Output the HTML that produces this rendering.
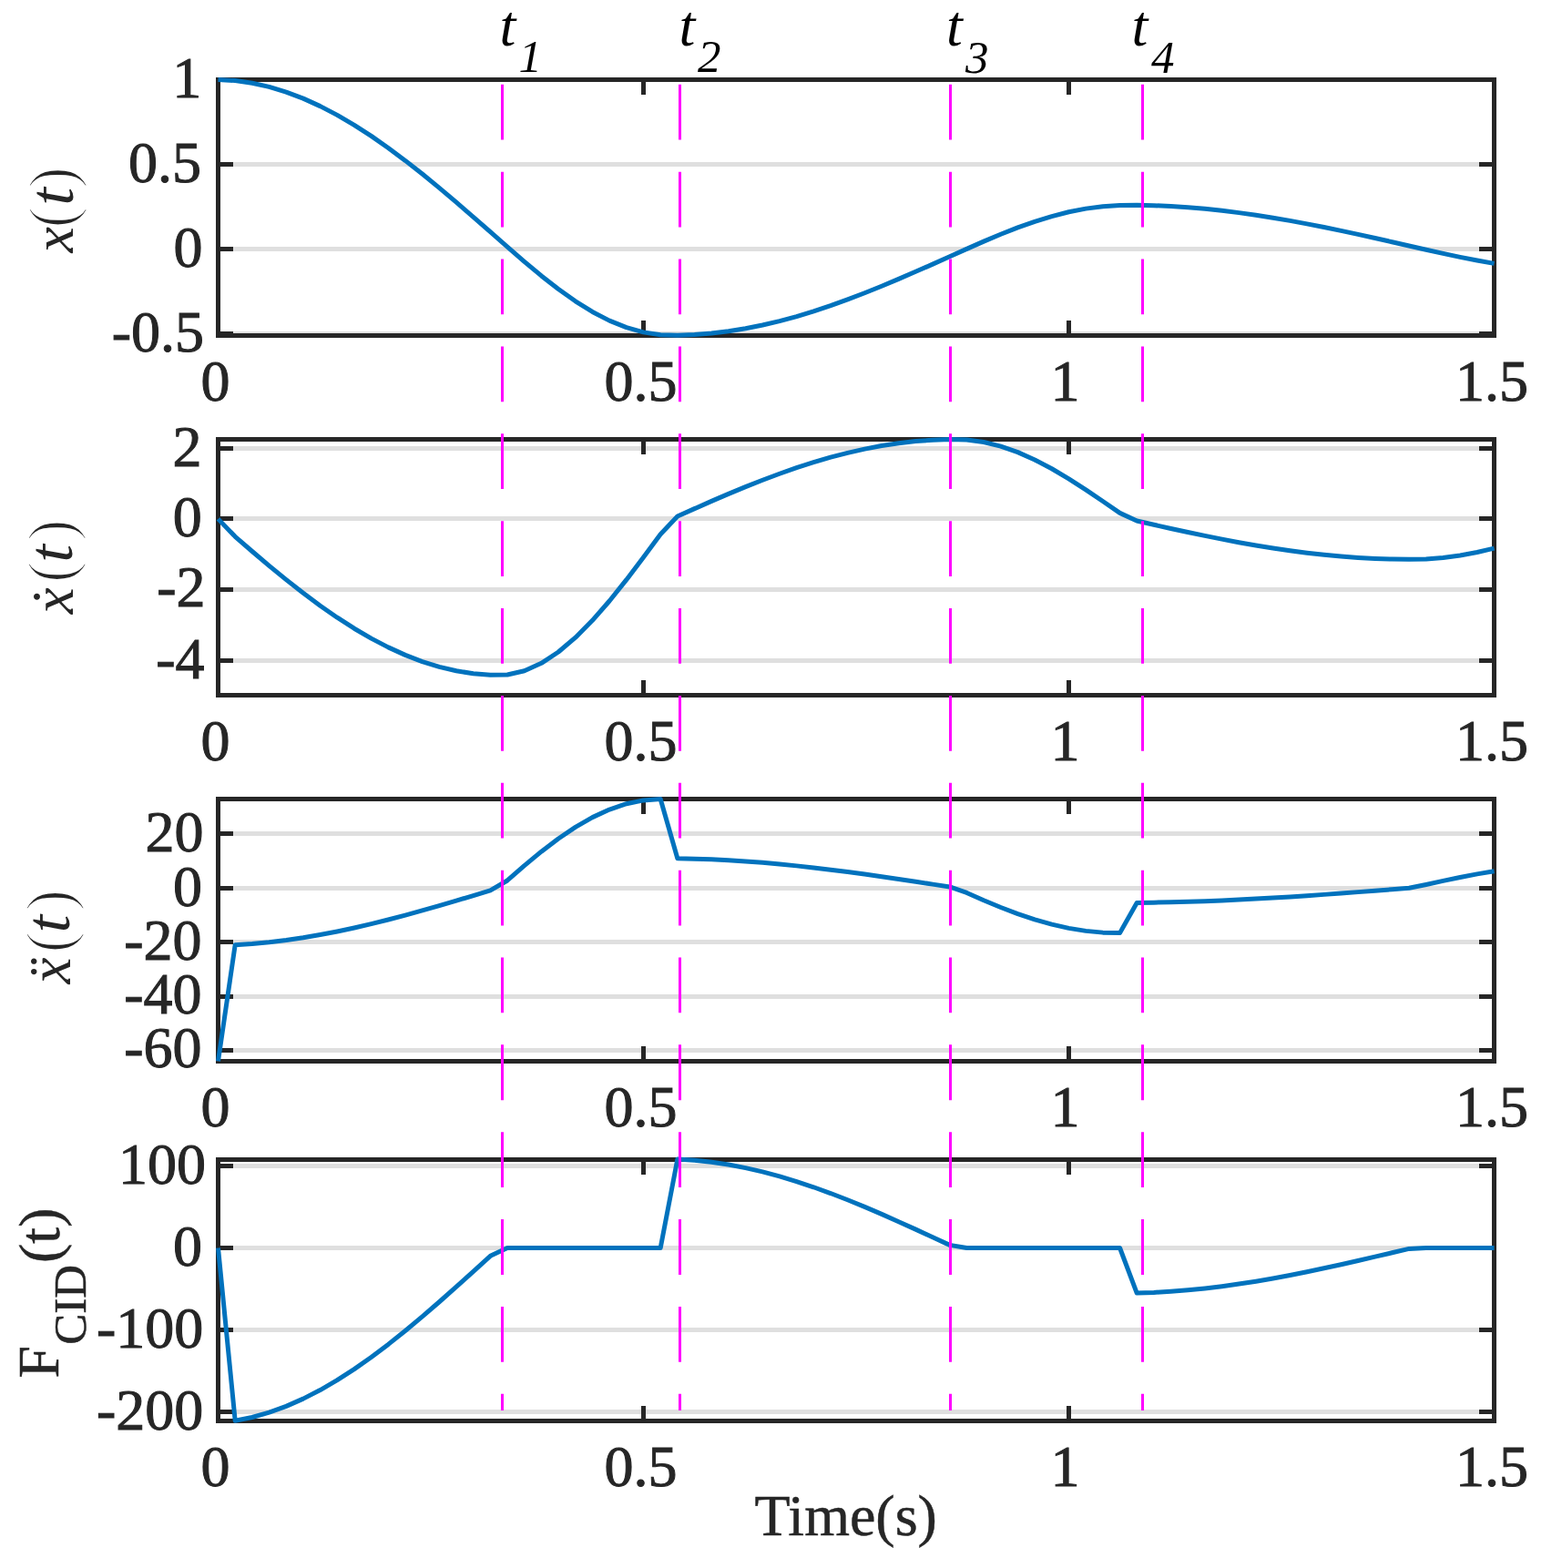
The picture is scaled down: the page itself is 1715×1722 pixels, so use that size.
<!DOCTYPE html>
<html><head><meta charset="utf-8"><title>Response plots</title>
<style>html,body{margin:0;padding:0;background:#fff;}svg{display:block;}</style></head>
<body>
<svg width="1715" height="1722" viewBox="0 0 1715 1722">
<rect width="1715" height="1722" fill="#fff"/>
<g><line x1="239.5" y1="87.50" x2="1640.5" y2="87.50" stroke="#dfdfdf" stroke-width="5"/><line x1="239.5" y1="180.50" x2="1640.5" y2="180.50" stroke="#dfdfdf" stroke-width="5"/><line x1="239.5" y1="273.50" x2="1640.5" y2="273.50" stroke="#dfdfdf" stroke-width="5"/><line x1="239.5" y1="366.50" x2="1640.5" y2="366.50" stroke="#dfdfdf" stroke-width="5"/></g>
<path d="M239.5 87.5H1640.5V368.5H239.5Z" fill="none" stroke="#262626" stroke-width="5" stroke-linejoin="miter"/>
<path d="M239.5 87.50h16.5M1640.5 87.50h-16.5M239.5 180.50h16.5M1640.5 180.50h-16.5M239.5 273.50h16.5M1640.5 273.50h-16.5M239.5 366.50h16.5M1640.5 366.50h-16.5M239.50 368.5v-16.5M239.50 87.5v16.5M706.50 368.5v-16.5M706.50 87.5v16.5M1173.50 368.5v-16.5M1173.50 87.5v16.5M1640.50 368.5v-16.5M1640.50 87.5v16.5" fill="none" stroke="#262626" stroke-width="5" stroke-linecap="butt"/>
<polyline points="239.50,87.50 258.18,88.56 276.86,91.20 295.54,95.38 314.22,101.05 332.90,108.15 351.58,116.63 370.26,126.39 388.94,137.35 407.62,149.42 426.30,162.47 444.98,176.40 463.66,191.08 482.34,206.38 501.02,222.17 519.70,238.32 538.38,254.67 557.06,271.10 575.74,287.32 594.42,302.93 613.10,317.55 631.78,330.82 650.46,342.43 669.14,352.10 687.82,359.63 706.50,364.86 725.18,367.69 743.86,368.18 762.54,367.50 781.22,366.03 799.90,363.78 818.58,360.78 837.26,357.04 855.94,352.62 874.62,347.55 893.30,341.87 911.98,335.65 930.66,328.93 949.34,321.77 968.02,314.24 986.70,306.40 1005.38,298.33 1024.06,290.09 1042.74,281.75 1061.42,273.39 1080.10,265.16 1098.78,257.28 1117.46,249.94 1136.14,243.31 1154.82,237.55 1173.50,232.79 1192.18,229.14 1210.86,226.67 1229.54,225.43 1248.22,225.32 1266.90,225.73 1285.58,226.54 1304.26,227.75 1322.94,229.34 1341.62,231.30 1360.30,233.61 1378.98,236.24 1397.66,239.18 1416.34,242.39 1435.02,245.85 1453.70,249.53 1472.38,253.39 1491.06,257.40 1509.74,261.53 1528.42,265.73 1547.10,269.99 1565.78,274.24 1584.46,278.40 1603.14,282.38 1621.82,286.07 1640.50,289.38" fill="none" stroke="#0072bd" stroke-width="5" stroke-linejoin="round" stroke-linecap="butt"/>
<g font-family="Liberation Serif, serif" font-size="64" fill="#262626" stroke="#262626" stroke-width="1"><text x="221.3" y="106.5" text-anchor="end">1</text><text x="220.9" y="199.5" text-anchor="end">0.5</text><text x="222.5" y="292.5" text-anchor="end">0</text><text x="224.1" y="386.2" text-anchor="end">-0.5</text><text x="236.5" y="440.0" text-anchor="middle">0</text><text x="703.4" y="440.0" text-anchor="middle">0.5</text><text x="1169.5" y="440.0" text-anchor="middle">1</text><text x="1638.0" y="440.0" text-anchor="middle">1.5</text></g>
<g><line x1="239.5" y1="492.50" x2="1640.5" y2="492.50" stroke="#dfdfdf" stroke-width="5"/><line x1="239.5" y1="569.50" x2="1640.5" y2="569.50" stroke="#dfdfdf" stroke-width="5"/><line x1="239.5" y1="647.50" x2="1640.5" y2="647.50" stroke="#dfdfdf" stroke-width="5"/><line x1="239.5" y1="725.50" x2="1640.5" y2="725.50" stroke="#dfdfdf" stroke-width="5"/></g>
<path d="M239.5 482.5H1640.5V763.5H239.5Z" fill="none" stroke="#262626" stroke-width="5" stroke-linejoin="miter"/>
<path d="M239.5 492.50h16.5M1640.5 492.50h-16.5M239.5 569.50h16.5M1640.5 569.50h-16.5M239.5 647.50h16.5M1640.5 647.50h-16.5M239.5 725.50h16.5M1640.5 725.50h-16.5M239.50 763.5v-16.5M239.50 482.5v16.5M706.50 763.5v-16.5M706.50 482.5v16.5M1173.50 763.5v-16.5M1173.50 482.5v16.5M1640.50 763.5v-16.5M1640.50 482.5v16.5" fill="none" stroke="#262626" stroke-width="5" stroke-linecap="butt"/>
<polyline points="239.50,569.87 258.18,589.29 276.86,605.51 295.54,621.34 314.22,636.65 332.90,651.31 351.58,665.20 370.26,678.20 388.94,690.22 407.62,701.14 426.30,710.89 444.98,719.39 463.66,726.58 482.34,732.39 501.02,736.79 519.70,739.75 538.38,741.24 557.06,740.94 575.74,736.69 594.42,728.29 613.10,716.00 631.78,700.21 650.46,681.36 669.14,659.99 687.82,636.67 706.50,612.03 725.18,586.71 743.86,567.01 762.54,558.64 781.22,550.41 799.90,542.39 818.58,534.64 837.26,527.24 855.94,520.24 874.62,513.69 893.30,507.66 911.98,502.19 930.66,497.32 949.34,493.10 968.02,489.55 986.70,486.71 1005.38,484.59 1024.06,483.20 1042.74,482.56 1061.42,482.96 1080.10,485.47 1098.78,490.08 1117.46,496.63 1136.14,504.94 1154.82,514.76 1173.50,525.82 1192.18,537.83 1210.86,550.45 1229.54,563.36 1248.22,572.01 1266.90,576.26 1285.58,580.44 1304.26,584.50 1322.94,588.42 1341.62,592.16 1360.30,595.69 1378.98,598.98 1397.66,602.01 1416.34,604.75 1435.02,607.17 1453.70,609.27 1472.38,611.02 1491.06,612.41 1509.74,613.43 1528.42,614.07 1547.10,614.34 1565.78,613.99 1584.46,612.53 1603.14,610.02 1621.82,606.53 1640.50,602.17" fill="none" stroke="#0072bd" stroke-width="5" stroke-linejoin="round" stroke-linecap="butt"/>
<g font-family="Liberation Serif, serif" font-size="64" fill="#262626" stroke="#262626" stroke-width="1"><text x="221.6" y="512.0" text-anchor="end">2</text><text x="221.7" y="589.4" text-anchor="end">0</text><text x="225.5" y="666.1" text-anchor="end">-2</text><text x="224.5" y="744.7" text-anchor="end">-4</text><text x="236.5" y="835.0" text-anchor="middle">0</text><text x="703.4" y="835.0" text-anchor="middle">0.5</text><text x="1169.5" y="835.0" text-anchor="middle">1</text><text x="1638.0" y="835.0" text-anchor="middle">1.5</text></g>
<g><line x1="239.5" y1="915.50" x2="1640.5" y2="915.50" stroke="#dfdfdf" stroke-width="5"/><line x1="239.5" y1="975.50" x2="1640.5" y2="975.50" stroke="#dfdfdf" stroke-width="5"/><line x1="239.5" y1="1034.50" x2="1640.5" y2="1034.50" stroke="#dfdfdf" stroke-width="5"/><line x1="239.5" y1="1094.50" x2="1640.5" y2="1094.50" stroke="#dfdfdf" stroke-width="5"/><line x1="239.5" y1="1153.50" x2="1640.5" y2="1153.50" stroke="#dfdfdf" stroke-width="5"/></g>
<path d="M239.5 877.5H1640.5V1165.5H239.5Z" fill="none" stroke="#262626" stroke-width="5" stroke-linejoin="miter"/>
<path d="M239.5 915.50h16.5M1640.5 915.50h-16.5M239.5 975.50h16.5M1640.5 975.50h-16.5M239.5 1034.50h16.5M1640.5 1034.50h-16.5M239.5 1094.50h16.5M1640.5 1094.50h-16.5M239.5 1153.50h16.5M1640.5 1153.50h-16.5M239.50 1165.5v-16.5M239.50 877.5v16.5M706.50 1165.5v-16.5M706.50 877.5v16.5M1173.50 1165.5v-16.5M1173.50 877.5v16.5M1640.50 1165.5v-16.5M1640.50 877.5v16.5" fill="none" stroke="#262626" stroke-width="5" stroke-linecap="butt"/>
<polyline points="239.50,1165.40 258.18,1037.71 276.86,1036.48 295.54,1034.73 314.22,1032.48 332.90,1029.76 351.58,1026.58 370.26,1022.98 388.94,1019.00 407.62,1014.66 426.30,1010.00 444.98,1005.08 463.66,999.92 482.34,994.58 501.02,989.10 519.70,983.53 538.38,977.92 557.06,966.97 575.74,950.63 594.42,935.16 613.10,920.95 631.78,908.33 650.46,897.61 669.14,889.01 687.82,882.74 706.50,878.89 725.18,877.55 743.86,942.75 762.54,943.15 781.22,943.82 799.90,944.76 818.58,945.94 837.26,947.36 855.94,949.02 874.62,950.88 893.30,952.94 911.98,955.18 930.66,957.57 949.34,960.10 968.02,962.74 986.70,965.47 1005.38,968.27 1024.06,971.11 1042.74,973.97 1061.42,980.44 1080.10,988.71 1098.78,996.49 1117.46,1003.61 1136.14,1009.89 1154.82,1015.18 1173.50,1019.37 1192.18,1022.38 1210.86,1024.13 1229.54,1024.61 1248.22,991.40 1266.90,991.17 1285.58,990.81 1304.26,990.31 1322.94,989.69 1341.62,988.94 1360.30,988.08 1378.98,987.12 1397.66,986.05 1416.34,984.90 1435.02,983.67 1453.70,982.37 1472.38,981.02 1491.06,979.62 1509.74,978.20 1528.42,976.75 1547.10,975.29 1565.78,971.54 1584.46,967.37 1603.14,963.45 1621.82,959.89 1640.50,956.77" fill="none" stroke="#0072bd" stroke-width="5" stroke-linejoin="round" stroke-linecap="butt"/>
<g font-family="Liberation Serif, serif" font-size="64" fill="#262626" stroke="#262626" stroke-width="1"><text x="223.5" y="934.5" text-anchor="end">20</text><text x="221.9" y="994.6" text-anchor="end">0</text><text x="221.5" y="1053.7" text-anchor="end">-20</text><text x="221.5" y="1113.0" text-anchor="end">-40</text><text x="221.5" y="1172.1" text-anchor="end">-60</text><text x="236.5" y="1237.0" text-anchor="middle">0</text><text x="703.4" y="1237.0" text-anchor="middle">0.5</text><text x="1169.5" y="1237.0" text-anchor="middle">1</text><text x="1638.0" y="1237.0" text-anchor="middle">1.5</text></g>
<g><line x1="239.5" y1="1280.50" x2="1640.5" y2="1280.50" stroke="#dfdfdf" stroke-width="5"/><line x1="239.5" y1="1370.50" x2="1640.5" y2="1370.50" stroke="#dfdfdf" stroke-width="5"/><line x1="239.5" y1="1460.50" x2="1640.5" y2="1460.50" stroke="#dfdfdf" stroke-width="5"/><line x1="239.5" y1="1550.50" x2="1640.5" y2="1550.50" stroke="#dfdfdf" stroke-width="5"/></g>
<path d="M239.5 1273.5H1640.5V1560.5H239.5Z" fill="none" stroke="#262626" stroke-width="5" stroke-linejoin="miter"/>
<path d="M239.5 1280.50h16.5M1640.5 1280.50h-16.5M239.5 1370.50h16.5M1640.5 1370.50h-16.5M239.5 1460.50h16.5M1640.5 1460.50h-16.5M239.5 1550.50h16.5M1640.5 1550.50h-16.5M239.50 1560.5v-16.5M239.50 1273.5v16.5M706.50 1560.5v-16.5M706.50 1273.5v16.5M1173.50 1560.5v-16.5M1173.50 1273.5v16.5M1640.50 1560.5v-16.5M1640.50 1273.5v16.5" fill="none" stroke="#262626" stroke-width="5" stroke-linecap="butt"/>
<polyline points="239.50,1370.50 258.18,1560.20 276.86,1556.48 295.54,1551.19 314.22,1544.39 332.90,1536.15 351.58,1526.54 370.26,1515.66 388.94,1503.60 407.62,1490.47 426.30,1476.40 444.98,1461.49 463.66,1445.90 482.34,1429.74 501.02,1413.17 519.70,1396.32 538.38,1379.34 557.06,1370.50 575.74,1370.50 594.42,1370.50 613.10,1370.50 631.78,1370.50 650.46,1370.50 669.14,1370.50 687.82,1370.50 706.50,1370.50 725.18,1370.50 743.86,1272.94 762.54,1274.16 781.22,1276.19 799.90,1279.00 818.58,1282.59 837.26,1286.90 855.94,1291.89 874.62,1297.54 893.30,1303.77 911.98,1310.53 930.66,1317.77 949.34,1325.42 968.02,1333.41 986.70,1341.68 1005.38,1350.14 1024.06,1358.74 1042.74,1367.38 1061.42,1370.50 1080.10,1370.50 1098.78,1370.50 1117.46,1370.50 1136.14,1370.50 1154.82,1370.50 1173.50,1370.50 1192.18,1370.50 1210.86,1370.50 1229.54,1370.50 1248.22,1420.10 1266.90,1419.42 1285.58,1418.32 1304.26,1416.82 1322.94,1414.94 1341.62,1412.68 1360.30,1410.08 1378.98,1407.16 1397.66,1403.94 1416.34,1400.46 1435.02,1396.74 1453.70,1392.81 1472.38,1388.72 1491.06,1384.49 1509.74,1380.17 1528.42,1375.78 1547.10,1371.38 1565.78,1370.50 1584.46,1370.50 1603.14,1370.50 1621.82,1370.50 1640.50,1370.50" fill="none" stroke="#0072bd" stroke-width="5" stroke-linejoin="round" stroke-linecap="butt"/>
<g font-family="Liberation Serif, serif" font-size="64" fill="#262626" stroke="#262626" stroke-width="1"><text x="226.1" y="1299.7" text-anchor="end">100</text><text x="221.9" y="1389.7" text-anchor="end">0</text><text x="223.2" y="1479.7" text-anchor="end">-100</text><text x="223.2" y="1569.8" text-anchor="end">-200</text><text x="236.5" y="1632.0" text-anchor="middle">0</text><text x="703.4" y="1632.0" text-anchor="middle">0.5</text><text x="1169.5" y="1632.0" text-anchor="middle">1</text><text x="1638.0" y="1632.0" text-anchor="middle">1.5</text></g>
<line x1="551.5" y1="92.8" x2="551.5" y2="1549" stroke="#ff00ff" stroke-width="3" stroke-dasharray="60.8 35.07"/>
<line x1="746.5" y1="92.8" x2="746.5" y2="1549" stroke="#ff00ff" stroke-width="3" stroke-dasharray="60.8 35.07"/>
<line x1="1043.5" y1="92.8" x2="1043.5" y2="1549" stroke="#ff00ff" stroke-width="3" stroke-dasharray="60.8 35.07"/>
<line x1="1254.5" y1="92.8" x2="1254.5" y2="1549" stroke="#ff00ff" stroke-width="3" stroke-dasharray="60.8 35.07"/>
<g font-family="Liberation Serif, serif" font-style="italic" fill="#000"><text><tspan x="548.45" y="50.35" font-size="64">t</tspan><tspan x="569.4" y="79.45" font-size="51">1</tspan></text><text><tspan x="745.4" y="50.35" font-size="64">t</tspan><tspan x="766.0" y="79.45" font-size="51">2</tspan></text><text><tspan x="1039.05" y="50.35" font-size="64">t</tspan><tspan x="1059.9" y="80.0" font-size="51">3</tspan></text><text><tspan x="1242.45" y="50.35" font-size="64">t</tspan><tspan x="1264.05" y="79.9" font-size="51">4</tspan></text></g>
<g font-family="Liberation Serif, serif" fill="#262626"><text transform="rotate(-90)"><tspan x="-277.55" y="80.2" font-size="64" font-style="italic">x</tspan><tspan x="-250.55" y="81.3" font-size="71" stroke="#fff" stroke-width="2">(</tspan><tspan x="-225.45" y="79.7" font-size="70" font-style="italic">t</tspan><tspan x="-206.85" y="81.3" font-size="71" stroke="#fff" stroke-width="2">)</tspan></text><text transform="rotate(-90)"><tspan x="-674.15" y="80.0" font-size="65" font-style="italic">ẋ</tspan><tspan x="-639.95" y="80.4" font-size="71" stroke="#fff" stroke-width="2">(</tspan><tspan x="-617.5" y="78.8" font-size="70" font-style="italic">t</tspan><tspan x="-594.05" y="80.4" font-size="71" stroke="#fff" stroke-width="2">)</tspan></text><text transform="rotate(-90)"><tspan x="-1080.4" y="76.65" font-size="65" font-style="italic">ẍ</tspan><tspan x="-1046.6" y="77.55" font-size="71" stroke="#fff" stroke-width="2">(</tspan><tspan x="-1024.25" y="75.9" font-size="70" font-style="italic">t</tspan><tspan x="-1000.5" y="77.55" font-size="71" stroke="#fff" stroke-width="2">)</tspan></text><text transform="rotate(-90)" stroke="#262626" stroke-width="0.5"><tspan x="-1513.4" y="63.95" font-size="64">F</tspan><tspan x="-1476.8" y="94.2" font-size="51">CID</tspan><tspan x="-1386.95" y="64.55" font-size="64">(t)</tspan></text></g>
<text x="928.7" y="1685.7" text-anchor="middle" font-family="Liberation Serif, serif" font-size="64" fill="#262626" stroke="#262626" stroke-width="0.5">Time(s)</text>
</svg>
</body></html>
